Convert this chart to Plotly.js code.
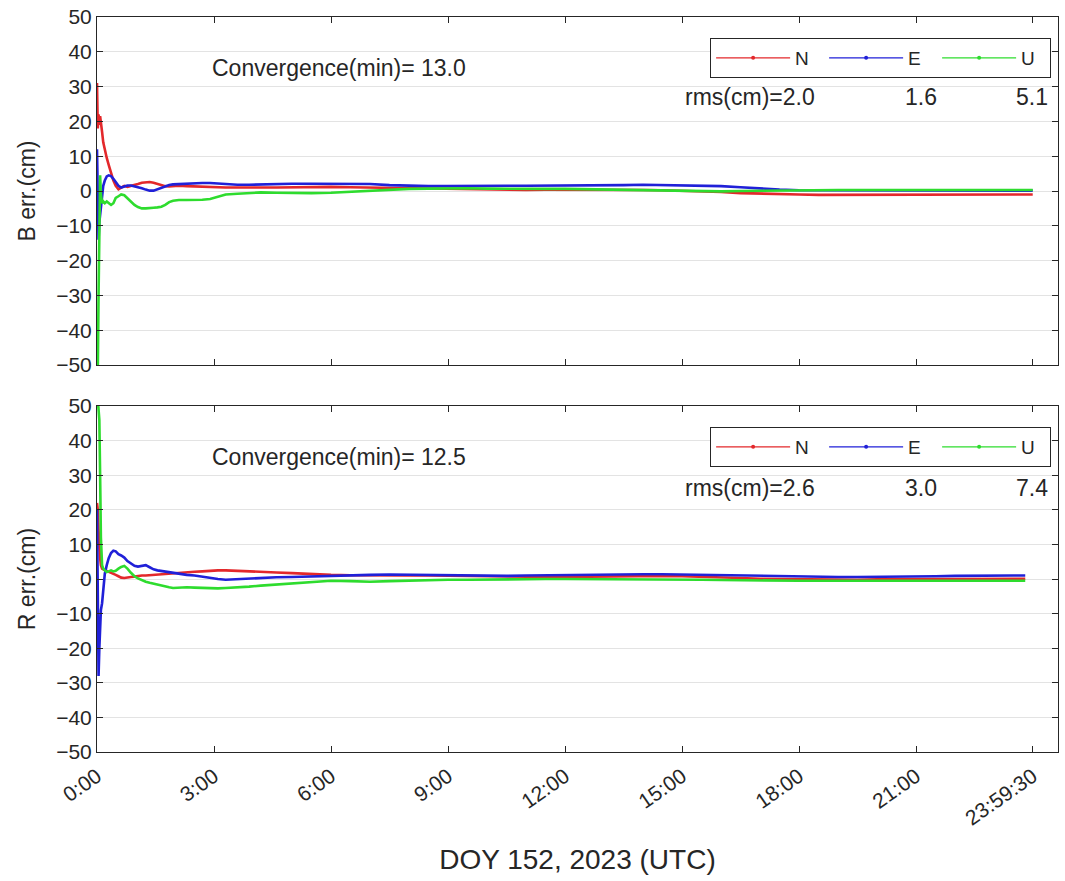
<!DOCTYPE html>
<html>
<head>
<meta charset="utf-8">
<script src="https://cdn.plot.ly/plotly-3.0.1.min.js"></script>
<style>
  html, body { margin: 0; padding: 0; background: #ffffff; }
  #chart { width: 1065px; height: 881px; }
</style>
</head>
<body>
<div id="chart"></div>
<script>
// Epoch times in hours of day (DOY 152, 2023, UTC)
const tB = [0, 0.02, 0.04, 0.06, 0.08, 0.10, 0.13, 0.16, 0.20, 0.25, 0.30, 0.36, 0.42, 0.48, 0.55, 0.62, 0.70, 0.78, 0.87, 0.96,
  1.05, 1.15, 1.25, 1.35, 1.45, 1.55, 1.65, 1.75, 1.85, 1.95, 2.1, 2.3, 2.5, 2.7, 2.9, 3.1, 3.3, 3.6, 3.9, 4.2,
  4.6, 5.0, 5.5, 6.0, 6.5, 7.0, 7.5, 8.0, 8.5, 9.0, 9.5, 10.0, 10.5, 11.0, 11.5, 12.0, 12.5, 13.0, 13.5, 14.0,
  14.5, 15.0, 15.5, 16.0, 16.5, 17.0, 17.5, 18.0, 18.5, 19.0, 19.5, 20.0, 20.5, 21.0, 21.5, 22.0, 22.5, 23.0, 23.5, 23.9917];
const tR = [0, 0.02, 0.04, 0.06, 0.08, 0.10, 0.13, 0.16, 0.20, 0.25, 0.30, 0.36, 0.42, 0.48, 0.55, 0.62, 0.70, 0.78, 0.87, 0.96,
  1.05, 1.15, 1.25, 1.35, 1.45, 1.55, 1.65, 1.75, 1.85, 1.95, 2.1, 2.3, 2.5, 2.7, 2.9, 3.1, 3.3, 3.6, 3.9, 4.2,
  4.6, 5.0, 5.5, 6.0, 6.5, 7.0, 7.5, 8.0, 8.5, 9.0, 9.5, 10.0, 10.5, 11.0, 11.5, 12.0, 12.5, 13.0, 13.5, 14.0,
  14.5, 15.0, 15.5, 16.0, 16.5, 17.0, 17.5, 18.0, 18.5, 19.0, 19.5, 20.0, 20.5, 21.0, 21.5, 22.0, 22.5, 23.0, 23.5, 23.8];

// Station B positioning errors (cm)
const bN = [31, 18, 22, 19, 21.5, 20, 17, 14, 11.5, 9.5, 7.5, 5, 3, 1.5, 0.5, 1, 1.5, 1.2, 1.4, 1.6,
  2, 2.4, 2.6, 2.6, 2.4, 2.0, 1.6, 1.4, 1.3, 1.4, 1.5, 1.4, 1.3, 1.2, 1.2, 1.1, 1.0, 1.0, 1.1, 1.0,
  1.0, 1.1, 1.2, 1.2, 1.1, 1.0, 0.9, 0.7, 0.6, 0.5, 0.4, 0.4, 0.3, 0.3, 0.4, 0.4, 0.5, 0.5, 0.4, 0.3,
  0.2, 0.1, -0.1, -0.3, -0.6, -0.8, -1.0, -1.0, -1.1, -1.1, -1.0, -1.0, -1.1, -1.1, -1.0, -1.0, -1.0, -1.1, -1.0, -1.0];
const bE = [12, -4, -14, -9, -7, -4, -1, 1.5, 3, 4.2, 4.5, 4.3, 3.5, 2.5, 1.5, 1.0, 1.2, 1.6, 1.6, 1.4,
  1.2, 0.8, 0.4, 0.1, 0.1, 0.5, 1.0, 1.4, 1.7, 1.9, 2.0, 2.1, 2.2, 2.3, 2.3, 2.1, 1.9, 1.8, 1.8, 1.9,
  2.0, 2.1, 2.1, 2.1, 2.0, 2.0, 1.7, 1.5, 1.4, 1.4, 1.5, 1.5, 1.5, 1.5, 1.5, 1.6, 1.6, 1.6, 1.7, 1.8,
  1.7, 1.7, 1.6, 1.4, 1.1, 0.7, 0.4, 0.2, 0.2, 0.2, 0.1, 0.0, 0.0, 0.1, 0.1, 0.1, 0.1, 0.1, 0.1, 0.1];
const bU = [-52, -52, -30, -10, 4.5, -1, -3.5, -3, -3.5, -3, -3.5, -4, -3.5, -2, -1.5, -1, -1.2, -2, -3, -4,
  -4.6, -5, -5, -4.8, -4.8, -4.7, -4.5, -4, -3.2, -2.8, -2.6, -2.6, -2.6, -2.5, -2.3, -1.6, -1.0, -0.8, -0.6, -0.4,
  -0.5, -0.6, -0.6, -0.5, -0.2, 0.1, 0.4, 0.6, 0.7, 0.8, 0.8, 0.7, 0.6, 0.6, 0.6, 0.6, 0.5, 0.5, 0.5, 0.3,
  0.2, 0.1, 0.0, -0.1, 0.0, 0.1, 0.2, 0.3, 0.3, 0.3, 0.3, 0.3, 0.3, 0.3, 0.3, 0.3, 0.3, 0.3, 0.3, 0.3];

// Station R positioning errors (cm)
const rN = [22, 20, 14, 9, 6, 4, 3, 2.8, 2.6, 2.4, 2.2, 2.0, 1.6, 1.2, 0.8, 0.4, 0.3, 0.5, 0.6, 0.7,
  0.9, 1.0, 1.0, 1.1, 1.2, 1.3, 1.3, 1.4, 1.5, 1.5, 1.7, 1.9, 2.1, 2.2, 2.4, 2.5, 2.5, 2.4, 2.2, 2.0,
  1.9, 1.7, 1.4, 1.2, 1.1, 1.0, 1.0, 1.0, 1.0, 0.9, 0.8, 0.7, 0.6, 0.6, 0.6, 0.6, 0.7, 0.8, 0.9, 0.9,
  0.9, 0.8, 0.7, 0.5, 0.3, 0.1, 0.0, -0.1, -0.2, -0.2, -0.2, -0.1, 0.0, 0.0, 0.0, 0.0, 0.1, 0.1, 0.1, 0.1];
const rE = [20, -10, -28, -20, -11, -9, -7, -2, 1.5, 4, 6, 7.5, 8.2, 8.0, 7.2, 6.8, 6.2, 5.2, 4.5, 3.8,
  3.6, 3.8, 4.0, 3.4, 2.8, 2.5, 2.3, 2.2, 2.0, 1.7, 1.4, 1.2, 1.0, 0.6, 0.3, 0.0, -0.2, 0.0, 0.2, 0.4,
  0.5, 0.6, 0.8, 1.0, 1.1, 1.2, 1.3, 1.2, 1.1, 1.1, 1.0, 0.9, 0.9, 1.0, 1.1, 1.2, 1.3, 1.3, 1.4, 1.4,
  1.4, 1.3, 1.2, 1.0, 0.9, 0.8, 0.7, 0.7, 0.6, 0.6, 0.6, 0.6, 0.7, 0.8, 0.8, 0.9, 1.0, 1.0, 1.0, 1.0];
const rU = [55, 52, 50, 46, 30, 12, 4, 3, 2.5, 2, 2.2, 2.5, 2.2, 2.4, 3.0, 3.5, 3.8, 3.0, 1.8, 0.8,
  0.2, -0.4, -0.8, -1.1, -1.4, -1.6, -1.8, -2.1, -2.4, -2.6, -2.5, -2.4, -2.5, -2.6, -2.7, -2.7, -2.6, -2.5, -2.2, -1.9,
  -1.6, -1.2, -0.8, -0.5, -0.6, -0.8, -0.6, -0.4, -0.3, -0.2, -0.2, -0.1, -0.1, -0.1, 0, 0, 0, 0, 0, -0.1,
  -0.1, -0.2, -0.2, -0.3, -0.4, -0.5, -0.5, -0.5, -0.5, -0.5, -0.5, -0.4, -0.4, -0.4, -0.4, -0.5, -0.5, -0.5, -0.5, -0.5];

// Axis ticks and annotation text
const timeTickVals = [0, 3, 6, 9, 12, 15, 18, 21, 23.9917];
const timeTickText = ['0:00', '3:00', '6:00', '9:00', '12:00', '15:00', '18:00', '21:00', '23:59:30'];
const errTicks = [-50, -40, -30, -20, -10, 0, 10, 20, 30, 40, 50];
const compNames = ['N', 'E', 'U'];
const compColors = ['#e3282b', '#2020d8', '#2edc2e'];
const convB = '13.0', convR = '12.5';
const rmsB = ['2.0', '1.6', '5.1'];
const rmsR = ['2.6', '3.0', '7.4'];

const FONT = 'Liberation Sans, Arial, sans-serif';
const AX = '#262626';

const traces = [];
[[tB, [bN, bE, bU], 'x', 'y', 'legend'], [tR, [rN, rE, rU], 'x2', 'y2', 'legend2']].forEach(([t, series, xa, ya, lg]) => {
  series.forEach((vals, i) => {
    traces.push({
      x: t, y: vals, xaxis: xa, yaxis: ya, type: 'scatter', mode: 'lines',
      line: { color: compColors[i], width: 2.6 }, showlegend: false, hoverinfo: 'skip'
    });
  });
  // legend entries: thin line with a dot marker
  compNames.forEach((n, i) => {
    traces.push({
      x: [null], y: [null], xaxis: xa, yaxis: ya, type: 'scatter', mode: 'lines+markers', name: n,
      legend: lg, line: { color: compColors[i], width: 1.2 }, marker: { color: compColors[i], size: 4 }
    });
  });
});

const xCommon = {
  range: [0, 24.64], tickvals: timeTickVals, ticktext: timeTickText,
  showgrid: false, zeroline: false, showline: true, linecolor: AX, linewidth: 1,
  mirror: 'ticks', ticks: 'inside', ticklen: 6, tickcolor: AX, automargin: false
};
const yCommon = {
  range: [-50, 50], tickvals: errTicks, showgrid: true, gridcolor: '#e3e3e3', gridwidth: 1,
  zeroline: false, showline: true, linecolor: AX, linewidth: 1, mirror: 'ticks',
  ticks: 'inside', ticklen: 6, tickcolor: AX, tickfont: { family: FONT, size: 21, color: AX },
  automargin: false
};

const ann = [];
function addText(txt, x, y, xanchor) {
  ann.push({ text: txt, xref: 'paper', yref: 'paper', x: x, y: y, xanchor: xanchor, yanchor: 'middle',
    showarrow: false, font: { family: FONT, size: 23, color: AX } });
}
addText('Convergence(min)= ' + convB, 0.1176, 0.9306, 'left');
addText('rms(cm)=' + rmsB[0], 0.6098, 0.891, 'left');
addText(rmsB[1], 0.8574, 0.891, 'center');
addText(rmsB[2], 0.9730, 0.891, 'center');
addText('Convergence(min)= ' + convR, 0.1176, 0.4014, 'left');
addText('rms(cm)=' + rmsR[0], 0.6098, 0.3592, 'left');
addText(rmsR[1], 0.8574, 0.3592, 'center');
addText(rmsR[2], 0.9730, 0.3592, 'center');

const legendCommon = {
  orientation: 'h', xanchor: 'left', yanchor: 'top', bgcolor: '#ffffff', bordercolor: AX, borderwidth: 1,
  font: { family: FONT, size: 19, color: AX }, itemwidth: 74, entrywidth: 24, entrywidthmode: 'pixels',
  itemclick: false, itemdoubleclick: false
};

const layout = {
  width: 1065, height: 881,
  margin: { l: 97, r: 7, t: 17, b: 129 },
  paper_bgcolor: '#ffffff', plot_bgcolor: '#ffffff',
  font: { family: FONT, color: AX },
  showlegend: true,
  xaxis: Object.assign({}, xCommon, { anchor: 'y', showticklabels: false }),
  yaxis: Object.assign({}, yCommon, { domain: [0.5265, 1], anchor: 'x',
    title: { text: 'B err.(cm)', font: { family: FONT, size: 23, color: AX }, standoff: 14 } }),
  xaxis2: Object.assign({}, xCommon, { anchor: 'y2', tickangle: -35, ticklabelstandoff: 3,
    tickfont: { family: FONT, size: 21, color: AX },
    title: { text: 'DOY 152, 2023 (UTC)', font: { family: FONT, size: 28, color: AX }, standoff: 20 } }),
  yaxis2: Object.assign({}, yCommon, { domain: [0, 0.4707], anchor: 'x2',
    title: { text: 'R err.(cm)', font: { family: FONT, size: 23, color: AX }, standoff: 14 } }),
  legend: Object.assign({}, legendCommon, { x: 0.638, y: 0.9714 }),
  legend2: Object.assign({}, legendCommon, { x: 0.638, y: 0.4422 }),
  annotations: ann
};

Plotly.newPlot('chart', traces, layout, { staticPlot: true, displayModeBar: false });
</script>
</body>
</html>
